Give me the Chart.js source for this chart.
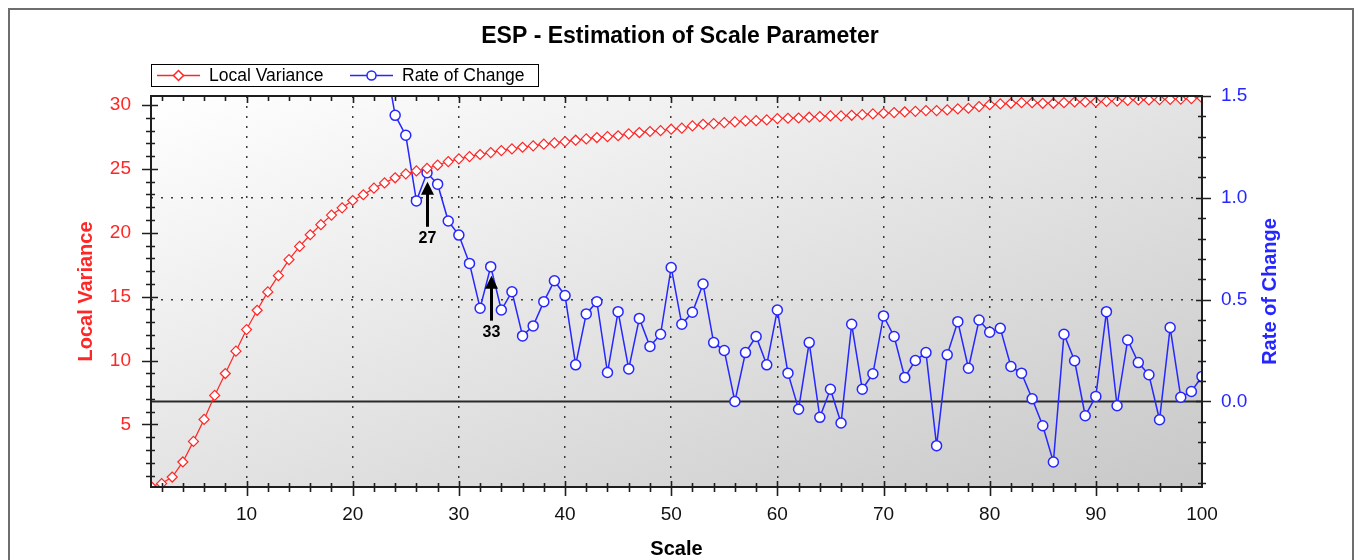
<!DOCTYPE html>
<html>
<head>
<meta charset="utf-8">
<title>ESP - Estimation of Scale Parameter</title>
<script src="https://cdn.jsdelivr.net/npm/chart.js@4.4.1/dist/chart.umd.min.js"></script>
<style>
  html, body { margin: 0; padding: 0; background: #fff; }
  #wrap { width: 1360px; height: 560px; }
</style>
</head>
<body>
<div id="wrap"><canvas id="esp" width="1360" height="560"></canvas></div>
<script>
// scale parameter on the x axis
const scales = [
  1, 2, 3, 4, 5, 6, 7, 8, 9, 10, 11, 12, 13, 14, 15, 16, 17, 18, 19, 20,
  21, 22, 23, 24, 25, 26, 27, 28, 29, 30, 31, 32, 33, 34, 35, 36, 37, 38, 39, 40,
  41, 42, 43, 44, 45, 46, 47, 48, 49, 50, 51, 52, 53, 54, 55, 56, 57, 58, 59, 60,
  61, 62, 63, 64, 65, 66, 67, 68, 69, 70, 71, 72, 73, 74, 75, 76, 77, 78, 79, 80,
  81, 82, 83, 84, 85, 86, 87, 88, 89, 90, 91, 92, 93, 94, 95, 96, 97, 98, 99, 100
];

const localVariance = [
  0.15, 0.37, 0.88, 2.06, 3.67, 5.39, 7.27, 8.98, 10.73, 12.42,
  13.93, 15.37, 16.64, 17.89, 18.93, 19.84, 20.63, 21.38, 21.95, 22.52,
  22.97, 23.49, 23.90, 24.30, 24.61, 24.84, 25.03, 25.29, 25.57, 25.78,
  25.96, 26.12, 26.27, 26.43, 26.56, 26.69, 26.80, 26.93, 27.03, 27.13,
  27.24, 27.34, 27.45, 27.52, 27.59, 27.73, 27.84, 27.92, 27.99, 28.10,
  28.18, 28.36, 28.49, 28.54, 28.62, 28.67, 28.75, 28.77, 28.83, 28.93,
  28.96, 28.98, 29.04, 29.09, 29.14, 29.14, 29.19, 29.24, 29.30, 29.35,
  29.40, 29.45, 29.50, 29.56, 29.56, 29.61, 29.69, 29.74, 29.87, 30.02,
  30.08, 30.13, 30.18, 30.18, 30.13, 30.13, 30.18, 30.23, 30.23, 30.23,
  30.28, 30.30, 30.36, 30.39, 30.39, 30.42, 30.44, 30.46, 30.50, 30.55
];

// values before scale 23 lie above the plotted range
const rateOfChange = [
  null, null, null, null, null, null, null, null, null, null,
  null, null, null, null, null, null, null, null, null, null,
  null, null, 1.70, 1.405, 1.307, 0.985, 1.123, 1.067, 0.886, 0.817,
  0.678, 0.458, 0.662, 0.449, 0.539, 0.322, 0.371, 0.490, 0.593, 0.520,
  0.180, 0.430, 0.490, 0.142, 0.441, 0.160, 0.408, 0.270, 0.330, 0.658,
  0.379, 0.438, 0.577, 0.289, 0.250, 0.000, 0.240, 0.319, 0.180, 0.449,
  0.139, -0.038, 0.289, -0.078, 0.060, -0.106, 0.379, 0.060, 0.136, 0.420,
  0.319, 0.118, 0.201, 0.240, -0.217, 0.229, 0.392, 0.163, 0.400, 0.340,
  0.359, 0.172, 0.139, 0.013, -0.119, -0.297, 0.330, 0.200, -0.070, 0.025,
  0.441, -0.021, 0.302, 0.191, 0.131, -0.090, 0.363, 0.021, 0.049, 0.123
];

const scaleTicks = [10, 20, 30, 40, 50, 60, 70, 80, 90, 100];
const varianceTicks = [5, 10, 15, 20, 25, 30];
const rateTicks = [0, 0.5, 1.0, 1.5];
const markedScales = [27, 33];

const RED = "#ff2626";
const BLUE = "#2626ff";
const AXIS = "#1e1e1e";

function diamond(ctx, x, y, r) {
    ctx.beginPath();
    ctx.moveTo(x - r, y);
    ctx.lineTo(x, y - r);
    ctx.lineTo(x + r, y);
    ctx.lineTo(x, y + r);
    ctx.closePath();
}

const espDecor = {
    id: "espDecor",
    beforeDraw(chart) {
        const { ctx, chartArea: a } = chart;
        ctx.save();
        ctx.fillStyle = "#fff";
        ctx.fillRect(0, 0, chart.width, chart.height);
        ctx.strokeStyle = "#6e6e6e";
        ctx.lineWidth = 2;
        ctx.strokeRect(9, 9, 1344, 600);

        // diagonal shading of the plot area
        const w = a.right - a.left, h = a.bottom - a.top;
        const f = 2 * w * h / (w * w + h * h);
        const g = ctx.createLinearGradient(a.left, a.top, a.left + f * h, a.top + f * w);
        g.addColorStop(0, "#ffffff");
        g.addColorStop(1, "#c8c8c8");
        ctx.fillStyle = g;
        ctx.fillRect(a.left, a.top, w, h);
        ctx.restore();
    },
    beforeDatasetsDraw(chart) {
        const { ctx, chartArea: a } = chart;
        const y0 = Math.round(chart.scales.y1.getPixelForValue(0)) + 0.5;
        ctx.save();
        ctx.strokeStyle = "#2a2a2a";
        ctx.lineWidth = 2;
        ctx.beginPath();
        ctx.moveTo(a.left, y0);
        ctx.lineTo(a.right, y0);
        ctx.stroke();
        ctx.restore();
    },
    afterDatasetsDraw(chart) {
        const { ctx } = chart;
        const meta = chart.getDatasetMeta(1);
        ctx.save();
        markedScales.forEach(s => {
            const pt = meta.data[scales.indexOf(s)];
            const x = Math.round(pt.x) + 0.5;
            const tip = pt.y + 9;
            const tail = tip + 45;
            ctx.strokeStyle = "#000";
            ctx.fillStyle = "#000";
            ctx.lineWidth = 3;
            ctx.beginPath();
            ctx.moveTo(x, tail);
            ctx.lineTo(x, tip + 8);
            ctx.stroke();
            ctx.beginPath();
            ctx.moveTo(x, tip);
            ctx.lineTo(x - 6.5, tip + 13);
            ctx.lineTo(x + 6.5, tip + 13);
            ctx.closePath();
            ctx.fill();
            ctx.font = "bold 16px 'Liberation Sans', Arial, sans-serif";
            ctx.textAlign = "center";
            ctx.textBaseline = "middle";
            ctx.fillText(String(s), x, tail + 12);
        });
        ctx.restore();
    },
    afterDraw(chart) {
        const { ctx, chartArea: a } = chart;
        const sx = chart.scales.x, sy = chart.scales.y, sr = chart.scales.y1;
        ctx.save();

        // plot frame
        ctx.strokeStyle = AXIS;
        ctx.lineWidth = 2;
        ctx.strokeRect(a.left, a.top, a.right - a.left, a.bottom - a.top);

        // tick marks
        ctx.lineWidth = 1.6;
        ctx.beginPath();
        for (let v = 2; v < 100; v += 2) {
            const px = Math.round(sx.getPixelForValue(v)) + 0.5;
            const major = v % 10 === 0;
            ctx.moveTo(px, a.bottom - (major ? 6 : 4));
            ctx.lineTo(px, a.bottom + (major ? 9 : 5));
            ctx.moveTo(px, a.top);
            ctx.lineTo(px, a.top + (major ? 7 : 5));
        }
        for (let v = 1; v <= 30; v++) {
            if (v < sy.min) continue;
            const py = Math.round(sy.getPixelForValue(v)) + 0.5;
            const major = v % 5 === 0;
            ctx.moveTo(a.left - (major ? 9 : 5), py);
            ctx.lineTo(a.left + (major ? 7 : 4), py);
        }
        for (let k = -4; k <= 15; k++) {
            const py = Math.round(sr.getPixelForValue(k / 10)) + 0.5;
            const major = k % 5 === 0;
            ctx.moveTo(a.right - (major ? 6 : 4), py);
            ctx.lineTo(a.right + (major ? 9 : 4), py);
        }
        ctx.stroke();

        // axis titles
        ctx.font = "bold 20px 'Liberation Sans', Arial, sans-serif";
        ctx.textAlign = "center";
        ctx.textBaseline = "middle";
        const midY = (a.top + a.bottom) / 2;
        ctx.fillStyle = RED;
        ctx.save();
        ctx.translate(86, midY);
        ctx.rotate(-Math.PI / 2);
        ctx.fillText("Local Variance", 0, 0);
        ctx.restore();
        ctx.fillStyle = BLUE;
        ctx.save();
        ctx.translate(1270, midY);
        ctx.rotate(-Math.PI / 2);
        ctx.fillText("Rate of Change", 0, 0);
        ctx.restore();
        ctx.fillStyle = "#000";
        ctx.fillText("Scale", (a.left + a.right) / 2, 549);

        // chart title
        ctx.font = "bold 23px 'Liberation Sans', Arial, sans-serif";
        ctx.fillText("ESP - Estimation of Scale Parameter", 680, 37);

        // legend
        ctx.fillStyle = "#fff";
        ctx.fillRect(151.5, 64.5, 387, 22);
        ctx.strokeStyle = "#000";
        ctx.lineWidth = 1;
        ctx.strokeRect(151.5, 64.5, 387, 22);
        const ly = 75.5;
        const items = [
            { label: chart.data.datasets[0].label, color: RED, x: 157, shape: "diamond" },
            { label: chart.data.datasets[1].label, color: BLUE, x: 350, shape: "circle" }
        ];
        items.forEach(it => {
            ctx.strokeStyle = it.color;
            ctx.lineWidth = 1.5;
            ctx.beginPath();
            ctx.moveTo(it.x, ly);
            ctx.lineTo(it.x + 43, ly);
            ctx.stroke();
            ctx.fillStyle = "#fff";
            if (it.shape === "diamond") {
                diamond(ctx, it.x + 21.5, ly, 5);
            } else {
                ctx.beginPath();
                ctx.arc(it.x + 21.5, ly, 4.5, 0, Math.PI * 2);
            }
            ctx.fill();
            ctx.stroke();
            ctx.fillStyle = "#000";
            ctx.font = "17.5px 'Liberation Sans', Arial, sans-serif";
            ctx.textAlign = "left";
            ctx.fillText(it.label, it.x + 52, ly + 1);
        });
        ctx.restore();
    }
};

const tickFont = { family: "'Liberation Sans', Arial, sans-serif", size: 19 };
const dotted = (c, hide) => (hide.includes(c.tick.value) ? "rgba(0,0,0,0)" : "#3a3a3a");

new Chart(document.getElementById("esp"), {
    type: "line",
    data: {
        datasets: [{
            label: "Local Variance",
            data: scales.map((s, i) => ({ x: s, y: localVariance[i] })),
            yAxisID: "y",
            borderColor: RED,
            borderWidth: 1.2,
            pointStyle: "rectRot",
            pointRadius: 5,
            pointBorderWidth: 1.2,
            pointBorderColor: RED,
            pointBackgroundColor: "#fff",
            tension: 0
        }, {
            label: "Rate of Change",
            data: scales.map((s, i) => ({ x: s, y: rateOfChange[i] })),
            yAxisID: "y1",
            borderColor: BLUE,
            borderWidth: 1.5,
            pointStyle: "circle",
            pointRadius: 5,
            pointBorderWidth: 1.5,
            pointBorderColor: BLUE,
            pointBackgroundColor: "#fff",
            spanGaps: false,
            tension: 0
        }]
    },
    options: {
        responsive: false,
        animation: false,
        devicePixelRatio: 1,
        layout: { padding: { top: 96, left: 0, right: 0, bottom: 0 } },
        plugins: {
            legend: { display: false },
            title: { display: false },
            tooltip: { enabled: false }
        },
        scales: {
            x: {
                type: "linear",
                min: 1,
                max: 100,
                afterBuildTicks: s => { s.ticks = scaleTicks.map(v => ({ value: v })); },
                afterFit: s => { s.height = 73; },
                ticks: { font: tickFont, color: "#111", padding: 16, maxRotation: 0 },
                grid: {
                    drawTicks: false,
                    lineWidth: 1.5,
                    color: c => dotted(c, [100])
                },
                border: { display: false, dash: [2, 8] }
            },
            y: {
                type: "linear",
                position: "left",
                min: 0.1,
                max: 30.7,
                afterBuildTicks: s => { s.ticks = varianceTicks.map(v => ({ value: v })); },
                afterFit: s => { s.width = 151; },
                ticks: { font: tickFont, color: RED, padding: 20 },
                grid: { display: false, drawTicks: false },
                border: { display: false }
            },
            y1: {
                type: "linear",
                position: "right",
                min: -0.42,
                max: 1.5,
                afterBuildTicks: s => { s.ticks = rateTicks.map(v => ({ value: v })); },
                afterFit: s => { s.width = 158; },
                ticks: {
                    font: tickFont,
                    color: BLUE,
                    padding: 19,
                    callback: v => Number(v).toFixed(1)
                },
                grid: {
                    drawTicks: false,
                    lineWidth: 1.5,
                    color: c => dotted(c, [0, 1.5])
                },
                border: { display: false, dash: [2, 8] }
            }
        }
    },
    plugins: [espDecor]
});
</script>
</body>
</html>
